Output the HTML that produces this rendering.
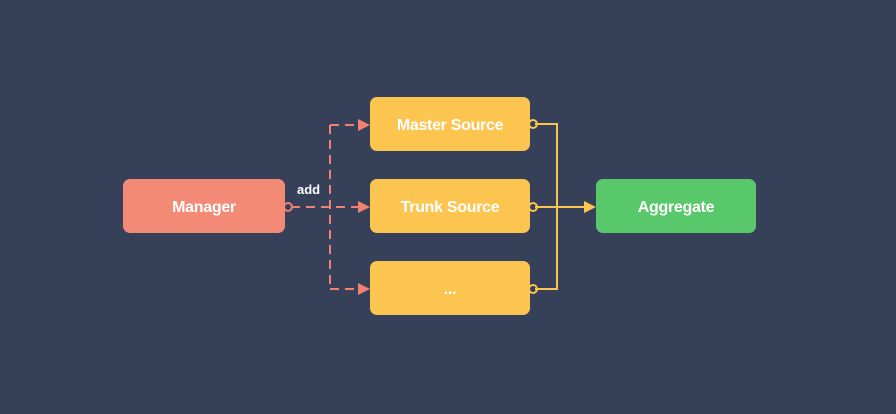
<!DOCTYPE html>
<html><head><style>
body{margin:0;width:896px;height:414px;background:#364059;overflow:hidden}
.b{position:absolute;height:54px;border-radius:7px;color:#fff;font:bold 16px "Liberation Sans",sans-serif;display:flex;align-items:center;justify-content:center;letter-spacing:-0.3px;box-sizing:border-box;padding-top:4px}
</style></head><body>
<svg width="896" height="414" style="position:absolute;left:0;top:0">
<g stroke="#f0826f" stroke-width="2" fill="none" stroke-dasharray="9,6">
<path d="M291 207 H362"/><path d="M330 125 V289"/><path d="M330 125 H362"/><path d="M330 289 H362"/>
</g>
<g fill="#f0826f"><path d="M370 125 l-12 -6 v12z"/><path d="M370 207 l-12 -6 v12z"/><path d="M370 289 l-12 -6 v12z"/></g>
<g stroke="#fbc54f" stroke-width="2" fill="none">
<path d="M535 124 H557 V289 H535"/><path d="M535 207 H584"/>
<circle cx="533" cy="124" r="4" /><circle cx="533" cy="207" r="4"/><circle cx="533" cy="289" r="4"/>
</g>
<path d="M596 207 l-12 -6 v12z" fill="#fbc54f"/>
<circle cx="288" cy="207" r="4" stroke="#f0826f" stroke-width="2" fill="none"/>
<text x="297" y="194" fill="#fff" font-family="Liberation Sans,sans-serif" font-weight="bold" font-size="13">add</text>
</svg>
<div class="b" style="left:123px;top:179px;width:162px;background:#f38a76">Manager</div>
<div class="b" style="left:370px;top:97px;width:160px;background:#fbc54f">Master Source</div>
<div class="b" style="left:370px;top:179px;width:160px;background:#fbc54f">Trunk Source</div>
<div class="b" style="left:370px;top:261px;width:160px;background:#fbc54f">...</div>
<div class="b" style="left:596px;top:179px;width:160px;background:#58c86b">Aggregate</div>
</body></html>
